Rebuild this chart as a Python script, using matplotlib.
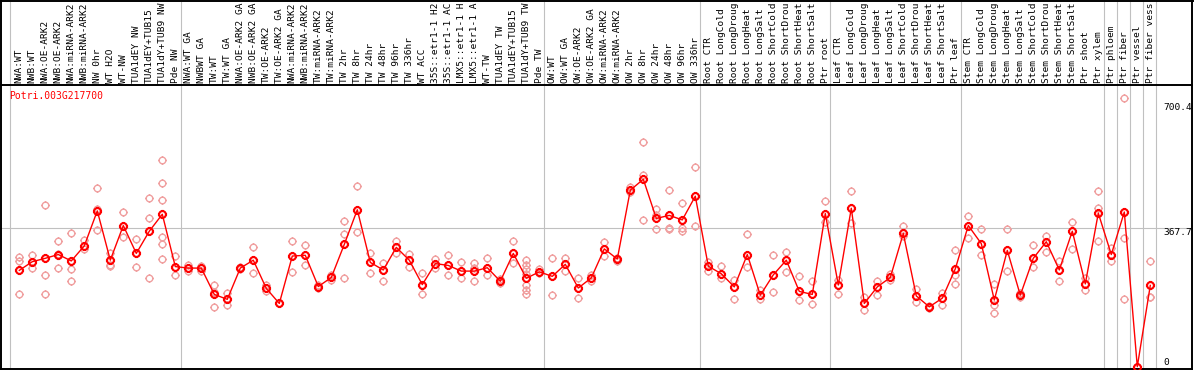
import matplotlib
matplotlib.use('Agg')
import matplotlib.pyplot as plt
from matplotlib.path import Path
from matplotlib.lines import Line2D
import matplotlib.transforms as mtransforms
import numpy as np

gene = "Potri.003G217700"

# condition labels as shown in the chart (truncated to 14 characters)
labels = [
    "NWA:WT", "NWB:WT", "NWA:OE-ARK2", "NWB:OE-ARK2", "NWA:miRNA-ARK2",
    "NWB:miRNA-ARK2", "NW 0hr", "WT H2O", "WT-NW", "TUA1dEY NW",
    "TUA1dEY+TUB15", "TUA1dY+TUB9 NW", "Pde NW",
    "NWA:WT GA", "NWBWT GA", "TW:WT", "TW:WT GA", "NWA:OE-ARK2 GA",
    "NWB:OE-ARK2 GA", "TW:OE-ARK2", "TW:OE-ARK2 GA", "NWA:miRNA-ARK2",
    "NWB:miRNA-ARK2", "TW:miRNA-ARK2", "TW:miRNA-ARK2", "TW 2hr",
    "TW 8hr", "TW 24hr", "TW 48hr", "TW 96hr", "TW 336hr", "WT ACC",
    "35S::etr1-1 H2", "35S::etr1-1 AC", "LMX5::etr1-1 H",
    "LMX5::etr1-1 A", "WT-TW", "TUA1dEY TW", "TUA1dEY+TUB15",
    "TUA1dY+TUB9 TW", "Pde TW",
    "OW:WT", "OW:WT GA", "OW:OE-ARK2", "OW:OE-ARK2 GA", "OW:miRNA-ARK2",
    "OW:miRNA-ARK2", "OW 2hr", "OW 8hr", "OW 24hr", "OW 48hr", "OW 96hr",
    "OW 336hr",
    "Root CTR", "Root LongCold", "Root LongDroug", "Root LongHeat",
    "Root LongSalt", "Root ShortCold", "Root ShortDrou", "Root ShortHeat",
    "Root ShortSalt", "Ptr root",
    "Leaf CTR", "Leaf LongCold", "Leaf LongDroug", "Leaf LongHeat",
    "Leaf LongSalt", "Leaf ShortCold", "Leaf ShortDrou", "Leaf ShortHeat",
    "Leaf ShortSalt", "Ptr leaf",
    "Stem CTR", "Stem LongCold", "Stem LongDroug", "Stem LongHeat",
    "Stem LongSalt", "Stem ShortCold", "Stem ShortDrou", "Stem ShortHeat",
    "Stem ShortSalt", "Ptr shoot", "Ptr xylem",
    "Ptr phloem", "Ptr fiber", "Ptr vessel", "Ptr fiber vess",
]

group_sizes = [13, 28, 12, 10, 10, 11, 1, 1, 1, 1]

means = [
    256, 279, 288, 298, 281, 321, 414, 283, 375, 301, 360, 405, 266,
    262, 262, 192, 179, 262, 283, 208, 168, 294, 296, 213, 237, 325, 417,
    277, 257, 317, 283, 218, 274, 269, 254, 254, 263, 227, 301, 235, 252,
    240, 272, 209, 236, 313, 286, 469, 498, 394, 402, 390, 453,
    267, 247, 212, 298, 190, 244, 283, 200, 192, 407,
    217, 421, 168, 212, 237, 354, 188, 159, 182, 260,
    375, 327, 177, 309, 190, 288, 332, 257, 360, 220, 408,
    298, 411, 0, 216,
]

reps = [
    [292, 282, 194], [297, 279, 263], [430, 243, 192], [333, 261, 300],
    [354, 259, 227], [336, 314], [475, 419, 362], [301, 270, 267],
    [410, 344], [339, 265], [447, 394, 235], [549, 487, 442, 344, 325, 285],
    [293, 243],
    [270, 255], [267, 255], [216, 158, 199], [195, 164], [264, 260],
    [317, 248], [217, 201], [168], [333, 252], [322, 269], [216, 210],
    [244, 231], [386, 353, 235], [479, 357], [301, 248], [276, 229],
    [333, 303], [299, 265], [248, 192], [285, 262], [296, 244], [278, 236],
    [275, 227, 262], [289, 244], [232, 222], [333, 275],
    [283, 269, 259, 245, 217, 204, 194], [259, 248],
    [288, 190], [288, 255], [235, 182], [244, 229], [330, 294], [290, 281],
    [477, 465], [596, 509, 391], [419, 367, 403], [469, 368, 366],
    [434, 360, 368], [530, 373],
    [279, 255], [267, 236], [230, 179], [352, 266], [205, 179], [298, 198],
    [306, 252], [240, 177], [228, 166], [439, 385],
    [230, 194], [466, 382], [186, 150], [229, 190], [245, 230], [373, 348],
    [206, 173], [161, 157], [197, 164], [310, 243, 221],
    [400, 341], [366, 297], [219, 164, 143], [366, 254], [195, 186],
    [322, 266], [348, 306], [282, 229], [385, 313], [235, 203],
    [468, 421, 333],
    [316, 282], [713, 341, 179], [0, 0], [281, 186, 186],
]

y_ticks = [0, 367.7, 700.4]
y_tick_labels = ["0", "367.7", "700.4"]

# ---- figure ----
W, H = 1194, 370
fig = plt.figure(figsize=(W / 100, H / 100), dpi=100)
ax_l, ax_r, ax_t, ax_b = 1, 1192, 85, 369  # pixel frame of plot area
ax = fig.add_axes([ax_l / W, (H - ax_b) / H, (ax_r - ax_l) / W, (ax_b - ax_t) / H])

mono = "DejaVu Sans Mono"
fs = 6.8

# marker: circle with small ticks
circ = Path.unit_circle()
tick_verts = []
tick_codes = []
for ang in [0, np.pi / 2, np.pi, 3 * np.pi / 2]:
    c, s = np.cos(ang), np.sin(ang)
    tick_verts += [(c * 1.0, s * 1.0), (c * 1.35, s * 1.35)]
    tick_codes += [Path.MOVETO, Path.LINETO]
ticks_path = Path(tick_verts, tick_codes)
mk = Path.make_compound_path(circ, ticks_path)

x = np.arange(len(labels))

# replicates
for i, rv in enumerate(reps):
    ax.plot([i] * len(rv), rv, linestyle='none', marker=mk, markersize=6.4,
            markerfacecolor='none', markeredgecolor='#f0a0a0',
            markeredgewidth=1.0, zorder=2, clip_on=False)

ax.plot(x, means, color='red', lw=1.0, zorder=3)
ax.plot(x, means, linestyle='none', marker=mk, markersize=6.6,
        markerfacecolor='none', markeredgecolor='red',
        markeredgewidth=1.5, zorder=4, clip_on=False)

# axes limits so that index 0 -> px 19.3 and spacing 13 px
x0_px, dx_px = 19.3, 13.0
ax.set_xlim((ax_l - x0_px) / dx_px, (ax_r - x0_px) / dx_px)
y0_px, sc = 366.7, 0.3764
ax.set_ylim((y0_px - ax_b) / sc, (y0_px - ax_t) / sc)

# gray gridlines
ext = ax_b / (ax_b - ax_t)
grid_c = '#c0c0c0'
ax.axvline(-0.72, ymin=0, ymax=ext, color=grid_c, lw=0.8, clip_on=False, zorder=1)
pos = 0
for g in group_sizes:
    pos += g
    ax.axvline(pos - 1 + 0.4, ymin=0, ymax=ext, color=grid_c, lw=0.8,
               clip_on=False, zorder=1)
ax.axhline(y_ticks[1], color=grid_c, lw=0.8, zorder=1)

# tick labels at top
ax.set_xticks(x)
ax.set_xticklabels(labels, rotation=90, fontsize=fs, family=mono)
ax.xaxis.tick_top()
ax.tick_params(axis='x', length=0, pad=1.5)
for t in ax.get_xticklabels():
    t.set_verticalalignment('bottom')
ax.set_yticks([])

# y value labels on right
tr = mtransforms.blended_transform_factory(ax.transAxes, ax.transData)
xl = (1163 - ax_l) / (ax_r - ax_l)
ax.text(xl, y_ticks[2], y_tick_labels[2], transform=tr, ha='left', va='top',
        fontsize=fs, family=mono)
ax.text(xl, y_ticks[1], y_tick_labels[1], transform=tr, ha='left', va='top',
        fontsize=fs, family=mono)
ax.text(xl, y_ticks[0], y_tick_labels[0], transform=tr, ha='left', va='bottom',
        fontsize=fs, family=mono)

# gene name
ax.text((9.3 - ax_l) / (ax_r - ax_l), (ax_b - 91) / (ax_b - ax_t), gene,
        transform=ax.transAxes, ha='left', va='top', color='red',
        fontsize=7, family=mono)

for sp in ax.spines.values():
    sp.set_color('black')
    sp.set_linewidth(1.4)

# outer frame of the label area
def fx(px):
    return px / W

def fy(py):
    return 1 - py / H

fig.add_artist(Line2D([fx(1), fx(1)], [fy(0), fy(ax_t)], color='black', lw=1.4))
fig.add_artist(Line2D([fx(ax_r), fx(ax_r)], [fy(0), fy(ax_t)], color='black', lw=1.4))
fig.add_artist(Line2D([fx(0), fx(W)], [fy(0.5), fy(0.5)], color='black', lw=1.4))

fig.savefig("out.png", dpi=100)
